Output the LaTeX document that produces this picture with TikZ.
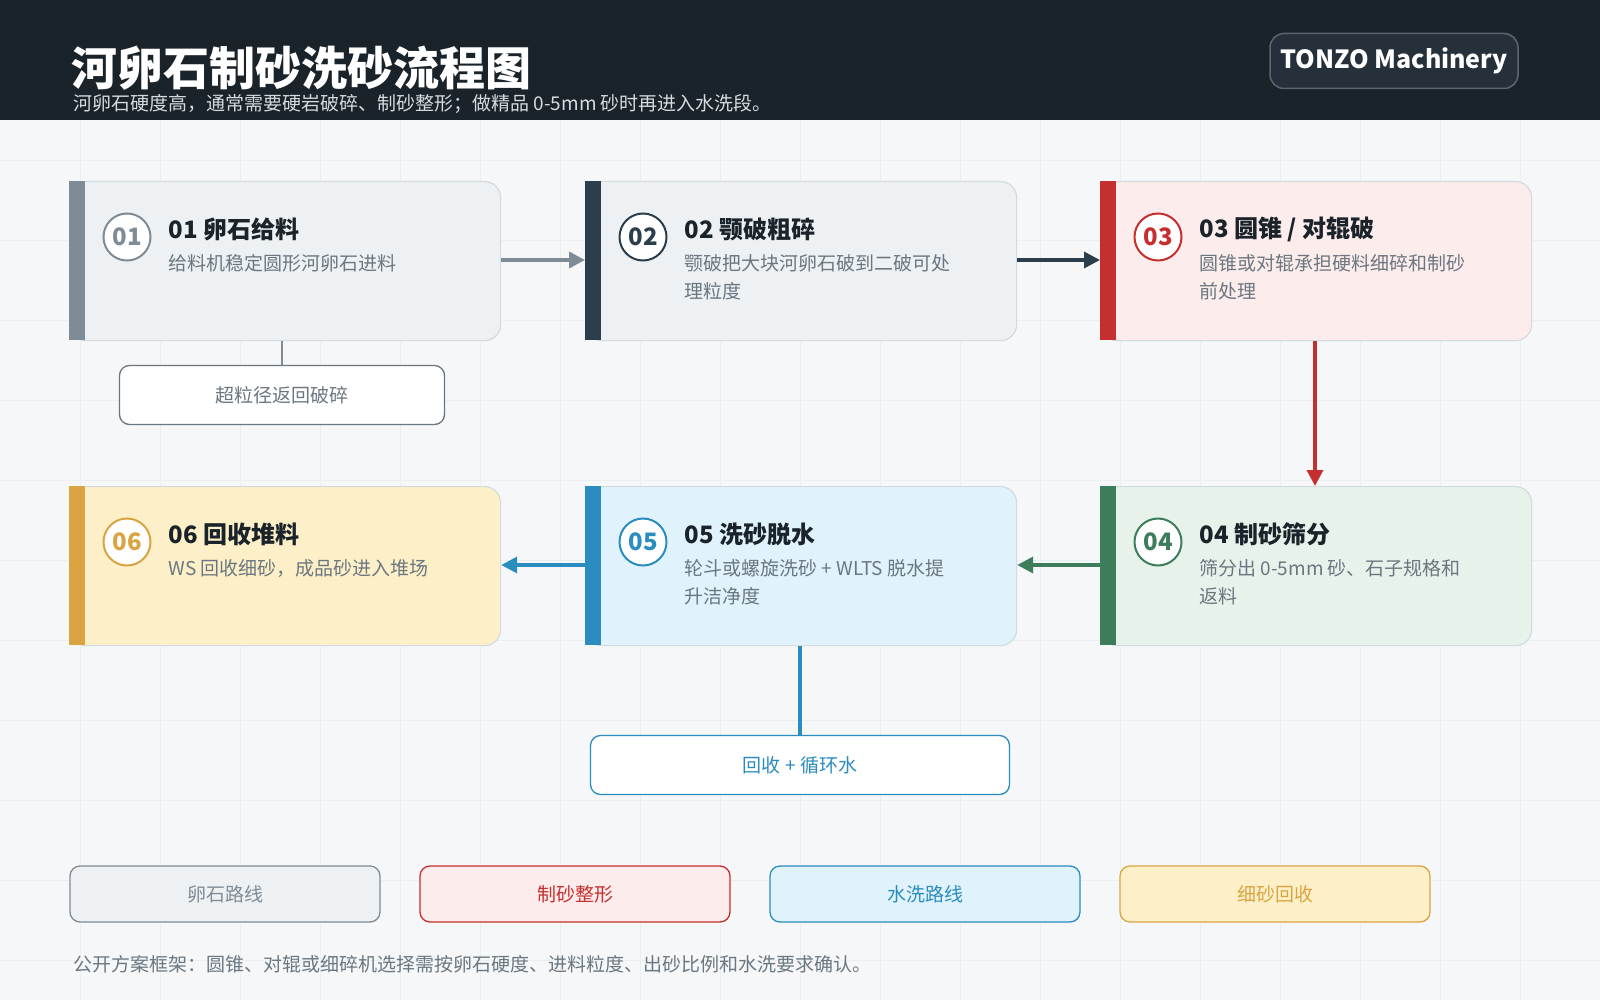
\documentclass[tikz,border=0pt]{standalone}
\usepackage{fontspec}
\setmainfont{Noto Sans CJK SC}
\usetikzlibrary{arrows.meta,positioning,calc}
\definecolor{ink}{HTML}{1B232A}
\definecolor{muted}{HTML}{6B7780}
\definecolor{edge}{HTML}{D3DBE0}
\definecolor{page}{HTML}{F5F7F9}
\definecolor{gridc}{HTML}{ECEFF2}
\definecolor{subc}{HTML}{D5DCE1}
\definecolor{brandline}{HTML}{5B6770}
\definecolor{brandfill}{HTML}{25303A}
\definecolor{cgrey}{HTML}{808C95}\definecolor{fgrey}{HTML}{EDF1F4}
\definecolor{cnavy}{HTML}{2C3E4C}
\definecolor{cred}{HTML}{C62F2F}\definecolor{fred}{HTML}{FDECEC}
\definecolor{cgreen}{HTML}{3E7D5C}\definecolor{fgreen}{HTML}{E6F2EA}
\definecolor{cblue}{HTML}{2B8CBF}\definecolor{fblue}{HTML}{E0F3FD}
\definecolor{cgold}{HTML}{D9A441}\definecolor{fgold}{HTML}{FDF0C8}
\tikzset{
  cardbox/.style={draw=edge, line width=1.2pt, rounded corners=16pt, minimum width=431pt, minimum height=159pt, inner sep=0pt},
  numring/.style={circle, draw=#1, line width=2pt, fill=white, minimum size=47pt, inner sep=0pt, text=#1, font=\fontsize{24}{24}\selectfont\bfseries},
  ctitle/.style={anchor=west, text=ink, font=\fontsize{24}{24}\selectfont\bfseries},
  cdesc/.style={anchor=north west, text=muted, align=left, font=\fontsize{19}{28}\selectfont},
  tagbox/.style={draw=#1, line width=1.3pt, rounded corners=10pt, text=#1, font=\fontsize{19}{19}\selectfont},
  flow/.style={line width=3.5pt, draw=#1, -{Triangle[length=16pt,width=16pt]}},
}
% card: name, left x, top y, number, title, description, bar colour, fill colour
\newcommand{\card}[8]{%
  \node[cardbox, fill=#8, anchor=north west] (#1) at (#2,#3) {};
  \fill[#7] (#2,#3) rectangle ++(16,159);
  \node[numring=#7] (#1num) at ($(#2,#3)+(58,56)$) {#4};
  \node[ctitle] (#1title) at ($(#2,#3)+(96,48)$) {#4 #5};
  \node[cdesc] (#1desc) at ($(#2,#3)+(96,70)$) {#6};
}
\begin{document}
\begin{tikzpicture}[x=1pt, y=-1pt]
\useasboundingbox (0,0) rectangle (1600,1000);
\fill[page] (0,0) rectangle (1600,1000);
\foreach \g in {80,160,...,1600} \draw[gridc, line width=0.8pt] (\g,120) -- (\g,1000);
\foreach \g in {160,240,...,1000} \draw[gridc, line width=0.8pt] (0,\g) -- (1600,\g);
% header
\fill[ink] (0,0) rectangle (1600,120);
\node[anchor=base west, text=white, font=\fontsize{46}{46}\selectfont\bfseries] (head) at (68,86) {河卵石制砂洗砂流程图};
\node[anchor=base west, text=subc, font=\fontsize{19}{19}\selectfont] (sub) at (70,111) {河卵石硬度高，通常需要硬岩破碎、制砂整形；做精品 0-5mm 砂时再进入水洗段。};
\node[draw=brandline, fill=brandfill, line width=1.5pt, rounded corners=14pt, minimum width=248pt, minimum height=55pt, text=white, font=\fontsize{25}{25}\selectfont\bfseries] (brand) at (1394,61) {TONZO Machinery};
% cards
\card{feed}{69}{181}{01}{卵石给料}{给料机稳定圆形河卵石进料}{cgrey}{fgrey}
\card{jaw}{585}{181}{02}{颚破粗碎}{颚破把大块河卵石破到二破可处\\理粒度}{cnavy}{fgrey}
\card{cone}{1100}{181}{03}{圆锥 / 对辊破}{圆锥或对辊承担硬料细碎和制砂\\前处理}{cred}{fred}
\card{screen}{1100}{486}{04}{制砂筛分}{筛分出 0-5mm 砂、石子规格和\\返料}{cgreen}{fgreen}
\card{wash}{585}{486}{05}{洗砂脱水}{轮斗或螺旋洗砂 + WLTS 脱水提\\升洁净度}{cblue}{fblue}
\card{stock}{69}{486}{06}{回收堆料}{WS 回收细砂，成品砂进入堆场}{cgold}{fgold}
% side boxes
\node[tagbox=muted, fill=white, minimum width=325pt, minimum height=59pt] (over) at (282,395) {超粒径返回破碎};
\node[tagbox=cblue, fill=white, minimum width=419pt, minimum height=59pt] (water) at (800,765) {回收 + 循环水};
% connectors
\draw[flow=cgrey] (feed.east |- 0,260) -- (jaw.west |- 0,260);
\draw[flow=cnavy] (jaw.east |- 0,260) -- (cone.west |- 0,260);
\draw[flow=cred] (cone.south -| 1315,0) -- (screen.north -| 1315,0);
\draw[flow=cgreen] (screen.west |- 0,565) -- (wash.east |- 0,565);
\draw[flow=cblue] (wash.west |- 0,565) -- (stock.east |- 0,565);
\draw[cgrey, line width=2.5pt] (feed.south -| over.north) -- (over.north);
\draw[cblue, line width=3.5pt] (wash.south -| water.north) -- (water.north);
% legend
\node[tagbox=cgrey, fill=fgrey, minimum width=310pt, minimum height=56pt] (lgpeb) at (225,894) {卵石路线};
\node[tagbox=cred, fill=fred, minimum width=310pt, minimum height=56pt] (lgsand) at (575,894) {制砂整形};
\node[tagbox=cblue, fill=fblue, minimum width=310pt, minimum height=56pt] (lgwash) at (925,894) {水洗路线};
\node[tagbox=cgold, fill=fgold, minimum width=310pt, minimum height=56pt] (lgfine) at (1275,894) {细砂回收};
\node[anchor=west, text=muted, font=\fontsize{19}{19}\selectfont] (note) at (70,964) {公开方案框架：圆锥、对辊或细碎机选择需按卵石硬度、进料粒度、出砂比例和水洗要求确认。};
\end{tikzpicture}
\end{document}
